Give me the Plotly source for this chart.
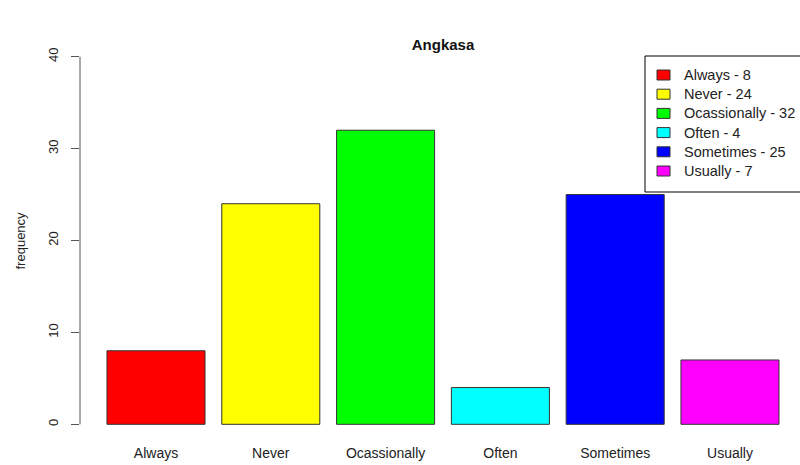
import plotly.graph_objects as go

categories = ["Always", "Never", "Ocassionally", "Often", "Sometimes", "Usually"]
values = [8, 24, 32, 4, 25, 7]
colors = ["#ff0000", "#ffff00", "#00ff00", "#00ffff", "#0000ff", "#ff00ff"]
y_ticks = [0, 10, 20, 30, 40]

W, H = 800, 465
ml, mr, mt, mb = 80, 0, 42, 26
PW, PH = W - ml - mr, H - mt - mb


def px_x(px):
    return (px - ml) / PW


def px_y(py):
    return (H - mb - py) / PH


fig = go.Figure()
fig.add_trace(go.Bar(
    x=categories, y=values, width=0.854, showlegend=False,
    marker=dict(color=colors, line=dict(color="#333333", width=1)),
))

# y axis line (only from 0 to 40, as in R)
fig.add_shape(type="line", xref="paper", yref="y", x0=0, x1=0, y0=0, y1=40,
              line=dict(color="#555555", width=1))

fig.add_annotation(text="frequency", xref="paper", yref="paper",
                   x=px_x(20), y=0.5, xanchor="center", yanchor="middle",
                   textangle=-90, showarrow=False,
                   font=dict(size=13, color="#222222"))

# legend (drawn manually to match R's legend box)
box_top, box_bottom, box_left = 56, 192, 645
fig.add_shape(type="rect", xref="paper", yref="paper",
              x0=px_x(box_left), x1=px_x(box_left + 200),
              y0=px_y(box_bottom), y1=px_y(box_top),
              line=dict(color="#000000", width=1), fillcolor="white", layer="above")
first_y, step = 75, 19.2
for i, (c, v, col) in enumerate(zip(categories, values, colors)):
    cy = first_y + i * step
    fig.add_shape(type="rect", xref="paper", yref="paper",
                  x0=px_x(657), x1=px_x(670), y0=px_y(cy + 5), y1=px_y(cy - 5),
                  line=dict(color="#333333", width=1), fillcolor=col, layer="above")
    fig.add_annotation(text=f"{c} - {v}", xref="paper", yref="paper",
                       x=px_x(682), y=px_y(cy), xanchor="left", yanchor="middle",
                       showarrow=False, font=dict(size=14.5, color="#222222"))

fig.update_layout(
    width=W, height=H,
    margin=dict(l=ml, r=mr, t=mt, b=mb),
    paper_bgcolor="white", plot_bgcolor="white",
    showlegend=False,
    font=dict(family="Liberation Sans, Arial, sans-serif", color="#222222"),
    title=dict(text="<b>Angkasa</b>", x=px_x(443), xref="paper",
               xanchor="center", y=1 - 45 / H, yanchor="middle",
               font=dict(size=15, color="#111111")),
    xaxis=dict(type="category", categoryarray=categories, range=[-0.662, 5.61],
               showline=False, showgrid=False, zeroline=False, ticks="",
               ticklabelstandoff=4,
               tickfont=dict(size=14, color="#222222")),
    yaxis=dict(range=[-1.6, 41.6], tickvals=y_ticks, ticktext=[str(t) for t in y_ticks],
               showline=False, showgrid=False, zeroline=False,
               ticks="outside", ticklen=8, tickcolor="#555555",
               tickangle=-90, ticklabelstandoff=8,
               tickfont=dict(size=13, color="#222222")),
)

fig.write_html("out.html", config={"displayModeBar": False},
               post_script="document.body.style.margin='0';")
